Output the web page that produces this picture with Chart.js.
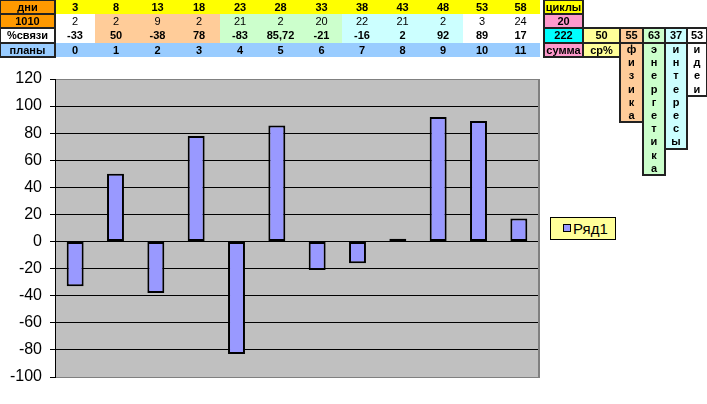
<!DOCTYPE html>
<html><head><meta charset="utf-8">
<script src="https://cdn.jsdelivr.net/npm/chart.js@4.4.0/dist/chart.umd.min.js"></script>
<style>
html,body{margin:0;padding:0;background:#fff;width:707px;height:404px;overflow:hidden;font-family:"Liberation Sans",Arial,sans-serif;}
#wrap{position:relative;width:707px;height:404px;}
canvas{position:absolute;left:0;top:0;}
.c{position:absolute;box-sizing:border-box;font-size:11px;font-weight:bold;color:#000;display:flex;align-items:center;justify-content:center;white-space:nowrap;line-height:1;}
.n{font-weight:normal;}
.b{outline:2px solid #222;outline-offset:-1px;}
#legend{position:absolute;left:550px;top:217px;width:66px;height:23px;box-sizing:border-box;background:#FFFF99;border:1px solid #000;}
#legend .mk{position:absolute;left:12px;top:6px;width:8px;height:8px;box-sizing:border-box;background:#9999FF;border:1px solid #000;}
#legend .tx{position:absolute;left:22px;top:2px;font-size:15px;color:#000;}
</style></head>
<body><div id="wrap"><canvas id="ch" width="707" height="404"></canvas><div id="tbl"></div>
<div id="legend"><div class="mk"></div><div class="tx" id="legtx"></div></div></div>
<script>
const days = [3, 8, 13, 18, 23, 28, 33, 38, 43, 48, 53, 58];
const links1010 = [2, 2, 9, 2, 21, 2, 20, 22, 21, 2, 3, 24];
const linkPercent = [-33, 50, -38, 78, -83, 85.72, -21, -16, 2, 92, 89, 17];
const plans = [0, 1, 2, 3, 4, 5, 6, 7, 8, 9, 10, 11];
const rowLabels = ['дни', '1010', '%связи', 'планы'];
const cyclesLabel = 'циклы';
const cyclesValue = 20;
const sumValue = 222;
const sumLabel = 'сумма';
const avgValue = 50;
const avgLabel = 'ср%';
const topicValues = [55, 63, 37, 53];
const topicWords = ['физика', 'энергетика', 'интересы', 'идеи'];
const seriesName = 'Ряд1';
const yMin = -100, yMax = 120, yStep = 20;

// ---- table layout ----
const tbl = document.getElementById('tbl');
const colEdges = [55, 95, 137, 178, 220, 260, 301, 342, 382, 423, 463, 501, 540];
const rowTop = [0, 14, 28, 43, 57];
const groupBg = ['#FFFFFF','#FFCC99','#FFCC99','#FFCC99','#CCFFCC','#CCFFCC','#CCFFCC','#CCFFFF','#CCFFFF','#CCFFFF','#FFFFFF','#FFFFFF'];
function cell(x, y, w, h, text, bg, cls) {
  const d = document.createElement('div');
  d.className = 'c ' + (cls || '');
  d.style.left = x + 'px'; d.style.top = y + 'px';
  d.style.width = w + 'px'; d.style.height = h + 'px';
  if (bg) d.style.background = bg;
  d.textContent = text;
  tbl.appendChild(d);
  return d;
}
function fmt(v) { return String(v).replace('.', ','); }
// row backgrounds
cell(55, rowTop[0], 485, 14, '', '#FFFF00');
cell(0, rowTop[3], 540, 14, '', '#99CCFF');
for (let i = 0; i < 12; i++) {
  const x = colEdges[i], w = colEdges[i+1] - colEdges[i];
  cell(x, rowTop[0], w, 14, String(days[i]), null);
  cell(x, rowTop[1], w, 14, String(links1010[i]), groupBg[i], 'n');
  cell(x, rowTop[2], w, 15, fmt(linkPercent[i]), groupBg[i]);
  cell(x, rowTop[3], w, 14, String(plans[i]), null);
}
const labelBg = ['#FF9900', '#FF9900', '#FFFFFF', '#99CCFF'];
for (let r = 0; r < 4; r++) cell(0, rowTop[r], 55, rowTop[r+1] - rowTop[r], rowLabels[r], labelBg[r], 'b');
cell(544, rowTop[0], 39, 14, cyclesLabel, '#FFFF00', 'b');
cell(544, rowTop[1], 39, 14, String(cyclesValue), '#FF99CC', 'b');
cell(544, rowTop[2], 39, 15, String(sumValue), '#00FFFF', 'b');
cell(544, rowTop[3], 39, 14, sumLabel, '#FF99CC', 'b');
cell(583, rowTop[2], 37, 15, String(avgValue), '#FFFF99', 'b');
cell(583, rowTop[3], 37, 14, avgLabel, '#FFFF99', 'b');
const topicX = [620, 643, 665, 687, 707];
const topicBg = ['#FFCC99', '#CCFFCC', '#CCFFFF', '#FFFFFF'];
const letterH = 13.2;
for (let t = 0; t < 4; t++) {
  const x = topicX[t], w = topicX[t+1] - topicX[t];
  cell(x, rowTop[2], w, 15, String(topicValues[t]), topicBg[t], 'b');
  const word = topicWords[t];
  cell(x, rowTop[3], w, word.length * letterH, '', topicBg[t], 'b');
  for (let k = 0; k < word.length; k++) cell(x, rowTop[3] + k * letterH, w, letterH, word[k], null);
}
document.getElementById('legtx').textContent = seriesName;

// ---- chart ----
const bgPlugin = {
  id: 'plotbg',
  beforeDraw(chart) {
    const a = chart.chartArea, c = chart.ctx;
    c.save(); c.fillStyle = '#C0C0C0';
    c.fillRect(a.left, a.top, a.right - a.left, a.bottom - a.top);
    c.restore();
  },
  afterDraw(chart) {
    const a = chart.chartArea, c = chart.ctx;
    c.save(); c.strokeStyle = '#808080'; c.lineWidth = 2;
    c.beginPath(); c.moveTo(a.right, a.top); c.lineTo(a.right, a.bottom + 1); c.stroke();
    c.restore();
  }
};
new Chart(document.getElementById('ch'), {
  type: 'bar',
  data: { labels: plans.map(String), datasets: [{
    label: seriesName, data: linkPercent,
    backgroundColor: '#9999FF', borderColor: '#000', borderWidth: 2, borderSkipped: false,
    categoryPercentage: 1, barPercentage: 0.42 }] },
  options: {
    responsive: false, animation: false,
    layout: { padding: { left: 0, top: 79, right: 168, bottom: 27 } },
    plugins: { legend: { display: false }, tooltip: { enabled: false } },
    scales: {
      x: { display: false, offset: true },
      y: { min: yMin, max: yMax,
        ticks: { stepSize: yStep, color: '#000', font: { family: 'Liberation Sans', size: 16 }, padding: 8 },
        grid: { color: c => (c.tick && (c.tick.value === yMax || c.tick.value === yMin)) ? '#808080' : '#000',
                tickColor: '#000', tickLength: 5, lineWidth: 1 },
        border: { color: '#000', width: 1 },
        afterFit: s => { s.width = 55; } }
    }
  },
  plugins: [bgPlugin]
});
</script></body></html>
